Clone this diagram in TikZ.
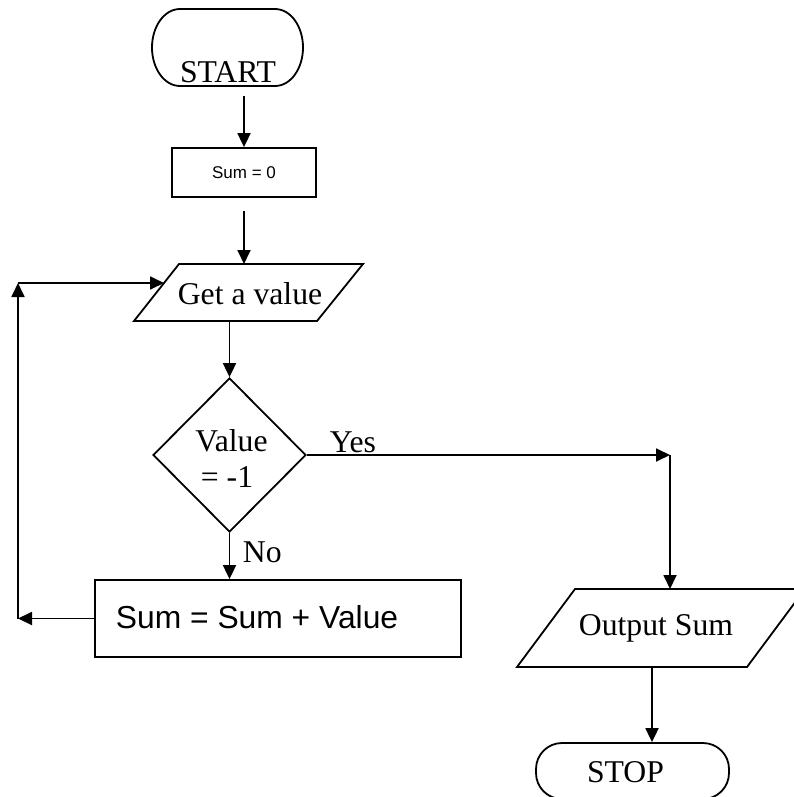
\documentclass[tikz,border=0pt]{standalone}
\usepackage{fontspec}
\setmainfont{Liberation Serif}
\setsansfont{Liberation Sans}
\usetikzlibrary{arrows.meta,shapes.geometric}
\begin{document}
\begin{tikzpicture}[x=1pt,y=-1pt,line width=1.8pt,
  arr/.style={-{Triangle[length=14pt,width=13pt]}},
  shp/.style={draw, inner sep=0pt},
  term/.style={shp, rectangle, rounded corners=30pt},
  proc/.style={shp, rectangle},
  dec/.style={shp, diamond},
  serif/.style={font=\fontsize{31.7}{36}\selectfont, inner sep=0pt},
  sansbig/.style={font=\sffamily\fontsize{31.8}{36}\selectfont, inner sep=0pt},
  sanssmall/.style={font=\sffamily\fontsize{17}{20}\selectfont, inner sep=0pt},
]
\useasboundingbox (0,0) rectangle (794,797);
\fill[white] (0,0) rectangle (794,797);
\clip (0,0) rectangle (794,797);

% START (elliptical ends)
\node[inner sep=0pt, minimum width=151pt, minimum height=77pt] (start) at (227.5,47.5) {};
\draw (180,9) -- (275,9)
  .. controls (290.5,9) and (303,26.2) .. (303,47.5)
  .. controls (303,68.8) and (290.5,86) .. (275,86)
  -- (180,86)
  .. controls (164.5,86) and (152,68.8) .. (152,47.5)
  .. controls (152,26.2) and (164.5,9) .. (180,9) -- cycle;
\node[serif, anchor=base] (starttext) at (228,83) {START};

% Sum = 0
\node[proc, minimum width=144pt, minimum height=49pt, sanssmall] (sum0) at (244,172.5) {Sum = 0};
\draw[arr, shorten <=9pt] (start.south -| sum0.north) -- (sum0.north);

% Get a value
\coordinate (g1) at (179,264);
\coordinate (g2) at (363,264);
\coordinate (g3) at (317,321);
\coordinate (g4) at (134,321);
\draw[line join=miter] (g1) -- (g2) -- (g3) -- (g4) -- cycle;
\node[serif, anchor=base] (get) at (250,304) {Get a value};
\draw[arr, shorten <=13pt] (sum0.south) -- (sum0.south |- g1);

% Decision
\node[dec, minimum width=153pt, minimum height=154pt] (dec) at (229.5,455) {};
\node[serif, anchor=base] (val) at (231.5,451) {Value};
\node[serif, anchor=base] (eqm) at (227,487) {= -1};
\draw[arr] (dec.north |- g4) -- (dec.north);

% Yes branch
\coordinate (yc) at (670,455);
\draw[arr] (dec.east) -- (yc);
\node[serif, anchor=base west] (yes) at (329,452) {Yes};

% Output Sum
\coordinate (o1) at (575,589);
\coordinate (o2) at (805,589);
\coordinate (o3) at (747,667);
\coordinate (o4) at (517,667);
\draw[line join=miter] (o1) -- (o2) -- (o3) -- (o4) -- cycle;
\node[serif, anchor=base] (out) at (656,635) {Output Sum};
\draw[arr] (yc) -- (yc |- o1);

% No branch
\node[proc, minimum width=366pt, minimum height=77pt] (sum) at (278,618.5) {};
\node[sansbig, anchor=base west] (sumtext) at (115,628) {Sum = Sum + Value};
\draw[arr] (dec.south) -- (dec.south |- sum.north);
\node[serif, anchor=base west] (no) at (242,562) {No};

% Loop back
\coordinate (l1) at (18,618.5);
\coordinate (l2) at (18,283);
\coordinate (l3) at (164,283);
\draw[arr] (sum.west) -- (l1);
\draw[arr] (l1) -- (l2);
\draw[arr] (l2) -- (l3);

% STOP
\node[term, rounded corners=26pt, minimum width=193pt, minimum height=56pt] (stop) at (632.5,771) {};
\node[serif, anchor=base] (stoptext) at (625.5,782) {STOP};
\coordinate (oout) at (652,667);
\draw[arr] (oout) -- (oout |- stop.north);
\end{tikzpicture}
\end{document}
